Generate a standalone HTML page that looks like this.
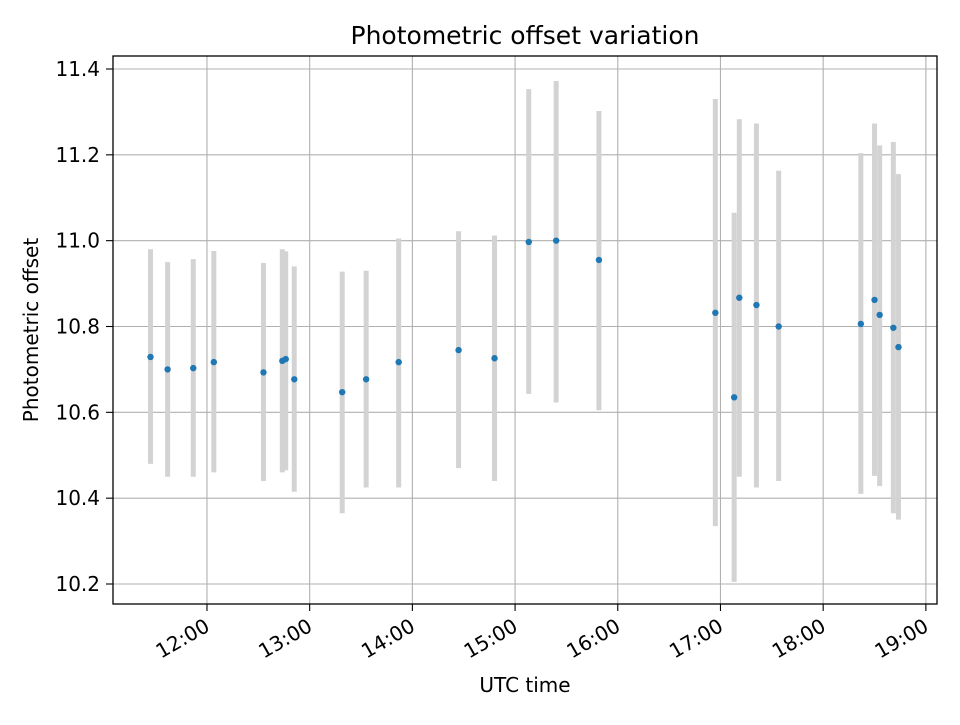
<!DOCTYPE html>
<html><head><meta charset="utf-8"><style>
html,body{margin:0;padding:0;background:#fff;}
svg text{font-family:"DejaVu Sans","Liberation Sans",sans-serif;fill:#000;}
</style></head><body>
<svg id="chart" width="960" height="720" xmlns="http://www.w3.org/2000/svg">
<rect width="960" height="720" fill="#fff"/>
<g id="grid"></g>
<g id="bars"></g>
<g id="pts"></g>
<rect x="113" y="56" width="824" height="548" fill="none" stroke="#000" stroke-width="1.3"/>
<g id="axes"></g>
<text x="525" y="44" font-size="25" text-anchor="middle">Photometric offset variation</text>
<text x="525" y="692" font-size="20" text-anchor="middle">UTC time</text>
<text transform="translate(38,330) rotate(-90)" font-size="20" text-anchor="middle">Photometric offset</text>
</svg>
<script>
const times = ["11:27","11:37","11:52","12:04","12:33","12:44","12:46","12:51","13:19","13:33","13:52","14:27","14:48","15:08","15:24","15:49","16:57","17:08","17:11","17:21","17:34","18:22","18:30","18:33","18:41","18:44"];
const offsets = [10.729,10.700,10.703,10.717,10.693,10.720,10.724,10.677,10.647,10.677,10.717,10.745,10.726,10.997,11.000,10.955,10.832,10.635,10.867,10.850,10.800,10.806,10.862,10.827,10.797,10.752];
const errLow = [10.48,10.45,10.45,10.46,10.44,10.46,10.465,10.415,10.365,10.425,10.425,10.47,10.44,10.643,10.623,10.605,10.335,10.205,10.45,10.425,10.44,10.41,10.452,10.428,10.365,10.35];
const errHigh = [10.98,10.95,10.957,10.976,10.948,10.98,10.975,10.94,10.928,10.93,11.005,11.022,11.012,11.353,11.372,11.302,11.33,11.065,11.283,11.273,11.163,11.204,11.273,11.222,11.23,11.155];
const yTicks = [10.2,10.4,10.6,10.8,11.0,11.2,11.4];
const xTicks = ["12:00","13:00","14:00","15:00","16:00","17:00","18:00","19:00"];

const NS="http://www.w3.org/2000/svg";
const L=113,R=937,T=56,B=604;
function mins(s){const p=s.split(":");return (+p[0]-12)*60+(+p[1]);}
const x0=-54.9,x1=426.5;
function sx(s){return L+(mins(s)-x0)/(x1-x0)*(R-L);}
function sy(v){return 584-(v-10.2)/1.2*(584-69);}
function mk(tag,attrs,parent){const e=document.createElementNS(NS,tag);for(const k in attrs)e.setAttribute(k,attrs[k]);parent.appendChild(e);return e;}
const grid=document.getElementById('grid'),axes=document.getElementById('axes'),bars=document.getElementById('bars'),pts=document.getElementById('pts');
yTicks.forEach(v=>{const y=sy(v);
 const g=mk('line',{x1:L,x2:R,y1:y,y2:y,stroke:'#b0b0b0','stroke-width':1.1},grid);
 
 
 const t=mk('line',{x1:L-7,x2:L,y1:y,y2:y,stroke:'#000','stroke-width':1.1},axes);
 
 
 const tx=mk('text',{x:L-13,y:y+7,'font-size':20,'text-anchor':'end'},axes);
 tx.textContent=v.toFixed(1);
 
 
});
xTicks.forEach(s=>{const x=sx(s);
 const g=mk('line',{x1:x,x2:x,y1:T,y2:B,stroke:'#b0b0b0','stroke-width':1.1},grid);
 
 
 const t=mk('line',{x1:x,x2:x,y1:B,y2:B+7,stroke:'#000','stroke-width':1.1},axes);
 
 
 const tx=mk('text',{transform:`translate(${x+4},${B+26}) rotate(-30)`,'font-size':20,'text-anchor':'end'},axes);
 tx.textContent=s;
 
 
});
times.forEach((s,i)=>{const x=sx(s);
 const b=mk('line',{x1:x,x2:x,y1:sy(errLow[i]),y2:sy(errHigh[i]),stroke:'#d3d3d3','stroke-width':5},bars);
 
 
});
times.forEach((s,i)=>{
 const c=mk('circle',{cx:sx(s),cy:sy(offsets[i]),r:3.2,fill:'#1f77b4'},pts);
 
 
});
</script>
</body></html>
